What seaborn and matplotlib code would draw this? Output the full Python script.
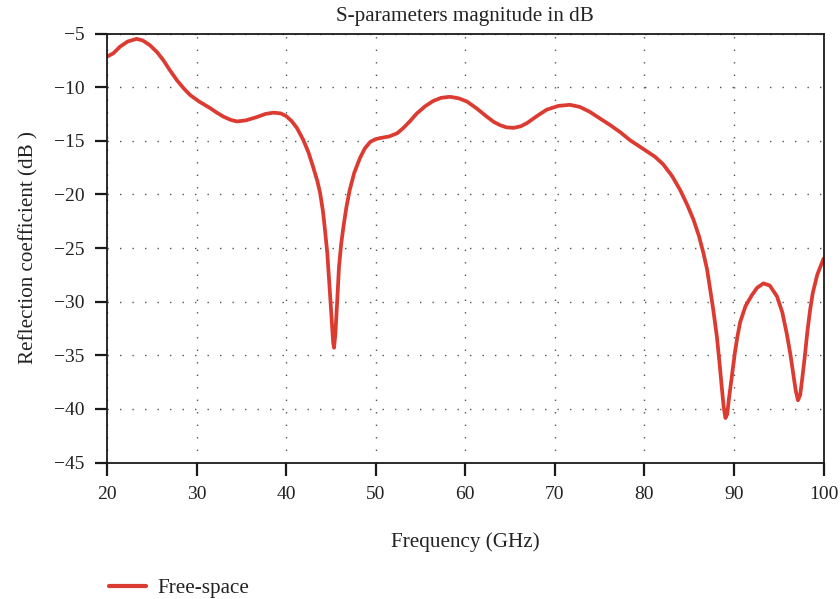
import matplotlib
matplotlib.use("Agg")
import matplotlib.pyplot as plt
import seaborn as sns
import pandas as pd

freq_ghz = [20.0, 20.7, 21.45, 22.3, 23.3, 24.0, 24.8, 25.6, 26.3, 27.0, 27.8, 28.6, 29.3,
            30.3, 31.5, 32.3, 33.0, 33.8, 34.5, 35.5, 36.7, 37.7, 38.6, 39.4, 40.0, 40.6,
            41.2, 41.9, 42.5, 43.0, 43.5, 43.8, 44.1, 44.3, 44.6, 44.8, 45.05, 45.25, 45.35,
            45.5, 45.7, 45.9, 46.15, 46.4, 46.75, 47.1, 47.6, 48.25, 48.8, 49.4, 50.0, 50.5,
            51.5, 52.4, 53.1, 53.8, 54.6, 55.5, 56.4, 57.3, 58.3, 59.3, 60.2, 61.3, 62.4,
            63.2, 63.9, 64.6, 65.4, 66.2, 66.9, 68.0, 69.1, 70.4, 71.7, 72.8, 73.9, 75.0,
            76.2, 77.3, 78.4, 79.4, 80.3, 81.2, 82.1, 83.1, 84.0, 84.8, 85.5, 86.1, 86.6,
            87.0, 87.3, 87.7, 88.1, 88.4, 88.6, 88.85, 89.05, 89.25, 89.45, 89.7, 90.1, 90.4,
            90.7, 91.3, 92.0, 92.6, 93.3, 94.0, 94.8, 95.4, 95.9, 96.3, 96.6, 96.9, 97.15,
            97.4, 97.65, 97.9, 98.2, 98.5, 98.8, 99.3, 100.0]
s11_db = [-7.16, -6.85, -6.23, -5.75, -5.5, -5.65, -6.1, -6.75, -7.5, -8.4, -9.35, -10.15, -10.75,
          -11.35, -11.95, -12.4, -12.75, -13.05, -13.2, -13.1, -12.8, -12.5, -12.38, -12.45, -12.7, -13.15,
          -13.8, -14.9, -16.1, -17.4, -18.8, -19.9, -21.5, -23.0, -25.5, -28.0, -31.2, -33.8, -34.3,
          -33.0, -30.0, -26.8, -24.6, -23.0, -21.1, -19.6, -18.0, -16.6, -15.7, -15.1, -14.85, -14.75,
          -14.6, -14.3, -13.8, -13.2, -12.45, -11.8, -11.3, -11.0, -10.9, -11.05, -11.35, -12.0, -12.75,
          -13.25, -13.55, -13.75, -13.8, -13.65, -13.35, -12.7, -12.1, -11.75, -11.65, -11.85, -12.3, -12.9,
          -13.55, -14.2, -14.95, -15.5, -16.0, -16.5, -17.2, -18.3, -19.6, -21.0, -22.4, -23.9, -25.5,
          -27.0, -28.6, -30.8, -33.3, -35.8, -37.6, -39.8, -40.85, -40.5, -39.0, -37.4, -34.8, -33.2,
          -31.9, -30.4, -29.4, -28.7, -28.3, -28.5, -29.5, -31.0, -33.0, -34.9, -36.6, -38.3, -39.2,
          -38.7, -37.0, -35.2, -32.8, -30.8, -29.2, -27.5, -26.0]
series_name = "Free-space"

x_ticks = [20, 30, 40, 50, 60, 70, 80, 90, 100]
y_ticks = [-45, -40, -35, -30, -25, -20, -15, -10, -5]

title_text = "S-parameters magnitude in dB"
x_label = "Frequency (GHz)"
y_label = "Reflection coefficient (dB )"

df = pd.DataFrame({"Frequency": freq_ghz, "S11": s11_db, "series": series_name})

sns.set_style("white")
plt.rcParams["font.family"] = ["Liberation Serif", "DejaVu Serif"]
plt.rcParams["axes.unicode_minus"] = True

fig = plt.figure(figsize=(8.4, 5.99), dpi=100)
ax = fig.add_axes([107 / 840, 1 - 462.5 / 599, (823.5 - 107) / 840, (462.5 - 33.5) / 599])

sns.lineplot(data=df, x="Frequency", y="S11", hue="series", palette=["#DC3B32"],
             linewidth=2.7, ax=ax, legend=False, sort=False)
for ln in ax.get_lines():
    ln.set_solid_joinstyle("round")
    ln.set_solid_capstyle("round")

ax.set_xlim(20, 100)
ax.set_ylim(-45, -5)
ax.set_xticks(x_ticks)
ax.set_yticks(y_ticks)
ax.set_yticklabels([f"\u2212{abs(v)}" for v in y_ticks])

for s in ax.spines.values():
    s.set_visible(True)
    s.set_color("#1a1a1a")
    s.set_linewidth(1.3)

ax.tick_params(axis="both", which="major", bottom=True, left=True, top=False, right=False,
               direction="out", length=9, width=1.6, color="#1a1a1a",
               labelsize=14, labelcolor="#222222")
ax.tick_params(axis="x", pad=8)
ax.tick_params(axis="y", pad=7)

ax.grid(True, color="#555555", linestyle=(0, (1, 8)), linewidth=1.0)

ax.set_title(title_text, fontsize=15.2, color="#222222", pad=9)
ax.set_xlabel(x_label, fontsize=15.2, color="#222222", labelpad=21)
ax.set_ylabel(y_label, fontsize=15.2, color="#222222", labelpad=11)

handle = plt.Line2D([], [], color="#DC3B32", linewidth=3.0)
fig.legend([handle], [series_name], loc="center left", bbox_to_anchor=(90 / 840, 1 - 588 / 599),
           frameon=False, fontsize=15.2, handlelength=1.75, handletextpad=0.55,
           labelcolor="#222222")

fig.savefig("out.png", dpi=100)
